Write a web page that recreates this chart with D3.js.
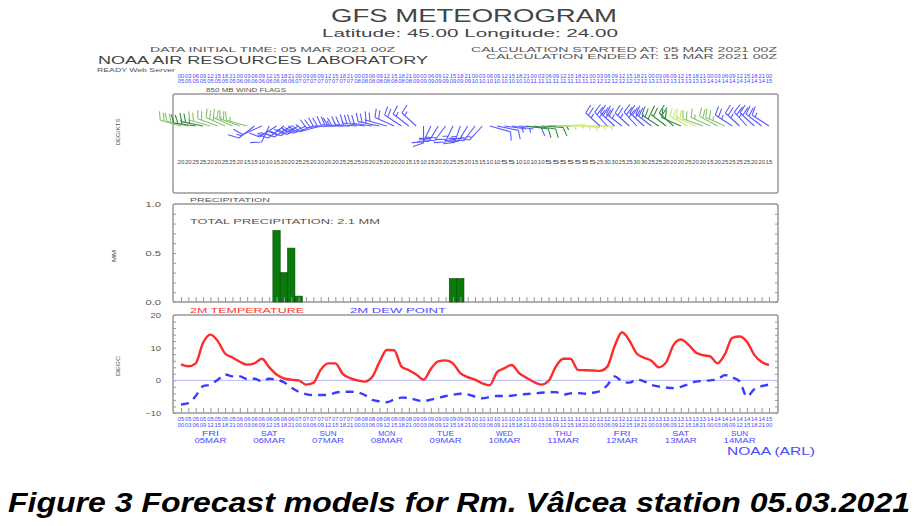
<!DOCTYPE html>
<html>
<head>
<meta charset="utf-8">
<title>GFS meteogram</title>
<script src="https://cdn.jsdelivr.net/npm/d3@7/dist/d3.min.js"></script>
<style>
body { margin: 0; background: #fff; }
svg text { font-family: "Liberation Sans", Arial, sans-serif; }
</style>
</head>
<body>
<div id="chart"></div>
<script>
// forecast steps, every 3 h from 05 MAR 2021 00Z to 15 MAR 2021 00Z
var hours = d3.range(0, 241, 3);

// 2 m temperature and dew point (deg C), one value per step
var temp = [4.9, 4.3, 5.2, 11.5, 14.0, 12.0, 8.2, 7.0, 5.7, 4.8,
            5.2, 6.6, 4.0, 1.8, 0.6, 0.2, 0.0, -1.3, -0.8, 3.2,
            5.2, 5.2, 2.0, 0.7, 0.0, -0.4, 1.0, 5.6, 9.3, 9.2,
            4.2, 3.1, 1.8, 0.2, 3.5, 5.8, 6.1, 5.2, 2.2, 1.0,
            0.2, -0.9, -1.5, 2.5, 3.7, 4.7, 2.2, 0.8, -0.5, -1.3,
            -0.2, 4.2, 6.6, 6.6, 3.2, 3.1, 3.0, 2.9, 4.2, 10.5,
            14.7, 12.2, 8.2, 6.9, 6.0, 4.0, 5.5, 10.8, 12.5, 11.0,
            8.6, 7.7, 7.3, 5.2, 8.0, 13.0, 13.4, 11.8, 7.8, 5.6, 4.7];
var dewPoint = [-7.4, -7.0, -4.8, -1.8, -1.3, 0.2, 1.8, 1.2, 1.2, 0.4,
                0.5, -0.3, 0.5, 0.2, -0.6, -2.2, -3.5, -4.2, -4.5, -4.5,
                -4.5, -3.8, -3.5, -3.5, -3.7, -4.5, -6.0, -6.4, -6.7, -5.9,
                -5.3, -5.4, -6.0, -6.4, -5.9, -5.4, -4.8, -4.4, -4.1, -4.3,
                -5.0, -5.5, -5.1, -4.8, -4.8, -4.7, -4.4, -4.2, -4.0, -3.8,
                -3.7, -3.6, -4.4, -4.0, -3.9, -4.1, -3.8, -3.3, -1.5, 1.2,
                -0.3, -0.7, 0.2, -0.3, -1.4, -1.9, -2.2, -2.4, -2.0, -1.2,
                -0.4, -0.2, 0.0, 0.3, 1.6, 0.9, -0.3, -5.0, -2.7, -1.8, -1.3];

// 3-hourly precipitation (mm), only the steps with rain
var precipHour = [39, 42, 45, 48, 111, 114];
var precipMM = [0.73, 0.30, 0.55, 0.06, 0.24, 0.24];

// 850 mb wind: direction (deg), speed (kt), flag colour class
var windDir = [290, 285, 280, 285, 290, 295, 300, 300, 295, 290,
               225, 240, 200, 230,
               225, 230, 235, 240, 245, 250,
               265, 270, 275, 270, 275, 280, 280, 285, 290,
               300, 310, 315, 320,
               180,
               200, 205, 210, 200, 195, 205, 210, 215,
               110, 105, 100, 100, 95, 100, 100, 95, 90,
               90, 85, 90, 95, 90, 90,
               320, 325, 320, 315, 320, 325, 320, 315, 310, 315, 320,
               300, 305, 300, 295, 300, 305, 300, 310,
               320, 325, 320, 315, 310];
var windSpd = [20, 20, 25, 25, 20, 20, 25, 25, 20, 15,
               15, 10, 10, 15,
               20, 20, 25, 25, 20, 20,
               20, 20, 25, 25, 25, 20, 20, 25, 20,
               20, 20, 15, 15,
               10,
               15, 20, 20, 25, 25, 20, 15, 15,
               10, 10, 5, 5, 10, 10, 10, 10, 5,
               5, 5, 5, 5, 5, 5,
               25, 30, 30, 25, 25, 30, 30, 25, 25, 20, 20,
               20, 25, 20, 20, 15, 20, 25, 25,
               25, 25, 20, 20, 15];
var windCls = ["g", "g", "d", "d", "g", "g", "g", "g", "g", "g",
               "b", "b", "b", "b", "b", "b", "b", "b", "b", "b",
               "b", "b", "b", "b", "b", "b", "b", "b", "b", "b",
               "b", "b", "b", "b", "b", "b", "b", "b", "b", "b",
               "b", "b", "b", "b", "b", "b", "b", "d", "d", "d",
               "d", "y", "y", "y", "y", "y", "y", "b", "b", "b",
               "b", "b", "b", "b", "b", "d", "d", "d", "d", "y",
               "y", "g", "g", "g", "g", "b", "b", "b", "b", "b", "b"];

// day labels at 12Z
var dayHour = [12, 36, 60, 84, 108, 132, 156, 180, 204, 228];
var dayNames = ["FRI", "SAT", "SUN", "MON", "TUE", "WED", "THU", "FRI", "SAT", "SUN"];
var dayDates = ["05MAR", "06MAR", "07MAR", "08MAR", "09MAR", "10MAR", "11MAR", "12MAR", "13MAR", "14MAR"];

var precipTicks = [0, 0.5, 1.0];
var tempTicks = [-10, 0, 10, 20];

var W = 914, H = 526;
var svg = d3.select("#chart").append("svg")
    .attr("width", W).attr("height", H);

var boxL = 173, boxR = 778;
var x = d3.scaleLinear().domain([0, 240]).range([181, 769]);
var yP = d3.scaleLinear().domain([0, 1]).range([302, 204]);
var yT = d3.scaleLinear().domain([-10, 20]).range([413, 315]);

var grey = "#555", blue = "#4a4aff";

function label(g, s, px, py, size, w, color, anchor) {
    var t = g.append("text")
        .attr("x", px).attr("y", py)
        .style("font-size", size + "px")
        .attr("fill", color || grey)
        .text(s);
    if (w) t.attr("textLength", w).attr("lengthAdjust", "spacingAndGlyphs");
    if (anchor) t.attr("text-anchor", anchor);
    return t;
}

function vlabel(g, s, cx, cy, size, w) {
    label(g, s, 0, 0, size, w, grey, "middle")
        .attr("transform", "translate(" + cx + "," + cy + ") rotate(-90)");
}

function pad(n) { return (n < 10 ? "0" : "") + n; }

// ---------- header ----------
label(svg, "GFS METEOROGRAM", 474, 22, 18, 286, "#444", "middle");
label(svg, "Latitude: 45.00 Longitude:  24.00", 470, 37, 11.5, 296, "#444", "middle");
label(svg, "DATA INITIAL TIME: 05 MAR 2021 00Z", 150, 52, 7, 245);
label(svg, "CALCULATION STARTED AT: 05 MAR 2021 00Z", 777, 51.5, 6.5, 306, grey, "end");
label(svg, "CALCULATION ENDED AT: 15 MAR 2021 00Z", 777, 59, 6.5, 291, grey, "end");
label(svg, "NOAA AIR RESOURCES LABORATORY", 98, 64, 11, 330, "#444");
label(svg, "READY Web Server", 97, 72, 6, 78);

// blue hour rows above the wind panel
var topRow = svg.append("g");
topRow.selectAll(".th").data(hours).enter().append("text")
    .attr("x", function(d) { return x(d); }).attr("y", 78)
    .attr("text-anchor", "middle").style("font-size", "4.5px").attr("fill", blue)
    .attr("textLength", 6.5).attr("lengthAdjust", "spacingAndGlyphs")
    .text(function(d) { return pad(d % 24); });
topRow.selectAll(".td").data(hours).enter().append("text")
    .attr("x", function(d) { return x(d); }).attr("y", 83)
    .attr("text-anchor", "middle").style("font-size", "4.5px").attr("fill", blue)
    .attr("textLength", 6.5).attr("lengthAdjust", "spacingAndGlyphs")
    .text(function(d) { return pad(5 + Math.floor(d / 24)); });

// ---------- wind panel ----------
label(svg, "850 MB  WIND FLAGS", 206, 91.5, 6, 80);
svg.append("rect").attr("x", boxL).attr("y", 94).attr("width", boxR - boxL).attr("height", 99)
    .attr("fill", "none").attr("stroke", "#999").attr("stroke-width", 1.5).attr("rx", 2);
vlabel(svg, "DEG/KTS", 120, 132, 6, 27);

var windColor = { g: "#86c46c", d: "#2f8a3a", b: "#5a5aff", y: "#cfe77a" };

function barbPath(dir, spd, cx, cy) {
    var th = dir * Math.PI / 180;
    var ux = Math.sin(th) * 1.3, uy = -Math.cos(th);
    var px = -uy * 1.3, py = ux / 1.3;
    var L = 17;
    var ex = cx + ux * L, ey = cy + uy * L;
    var p = "M" + cx + "," + cy + "L" + ex + "," + ey;
    var s = Math.round(spd / 5) * 5;
    var n10 = Math.floor(s / 10), n5 = (s % 10) >= 5 ? 1 : 0;
    var pos = 0;
    if (n10 === 0 && n5) pos = 1;
    for (var k = 0; k < n10 + n5; k++) {
        var f = k < n10 ? 9 : 4.5;
        var bx = ex - ux * 3.2 * pos, by = ey - uy * 3.2 * pos;
        p += "M" + bx + "," + by + "L" + (bx + f * (px * 0.9 + ux * 0.4)) + "," + (by + f * (py * 0.9 + uy * 0.4));
        pos++;
    }
    return p;
}

svg.append("g").selectAll("path").data(hours).enter().append("path")
    .attr("d", function(d, i) { return barbPath(windDir[i], windSpd[i], x(d), 126); })
    .attr("fill", "none").attr("stroke-width", 1.1)
    .attr("stroke", function(d, i) { return windColor[windCls[i]]; });

svg.append("g").selectAll("text").data(hours).enter().append("text")
    .attr("x", function(d) { return x(d); }).attr("y", 164)
    .attr("text-anchor", "middle").style("font-size", "5.5px").attr("fill", "#444")
    .attr("textLength", 6.8).attr("lengthAdjust", "spacingAndGlyphs")
    .text(function(d, i) { return windSpd[i]; });

// ---------- precipitation panel ----------
label(svg, "PRECIPITATION", 190, 201.5, 6, 80);
label(svg, "TOTAL PRECIPITATION:   2.1 MM", 190, 224, 6.5, 190);
svg.append("rect").attr("x", boxL).attr("y", 204).attr("width", boxR - boxL).attr("height", 98)
    .attr("fill", "none").attr("stroke", "#999").attr("stroke-width", 1.5).attr("rx", 2);
vlabel(svg, "MM", 116, 256, 6, 12);

svg.append("g").selectAll("rect").data(precipHour).enter().append("rect")
    .attr("x", function(d) { return x(d - 1.5); })
    .attr("width", function(d) { return x(d + 1.5) - x(d - 1.5); })
    .attr("y", function(d, i) { return yP(precipMM[i]); })
    .attr("height", function(d, i) { return yP(0) - yP(precipMM[i]); })
    .attr("fill", "#0a7a0a").attr("stroke", "#044d04").attr("stroke-width", 0.6);

function tidy(g) {
    g.select(".domain").remove();
    g.selectAll("line").attr("stroke", "#999");
}
function tickText(g) {
    g.select(".domain").remove();
    g.selectAll("line").remove();
    g.selectAll("text").style("font-size", "7.5px").attr("fill", grey)
        .attr("textLength", function(d) { return this.textContent.length * 5.2; })
        .attr("lengthAdjust", "spacingAndGlyphs");
}

svg.append("g").attr("transform", "translate(161,0)")
    .call(d3.axisLeft(yP).tickValues(precipTicks).tickFormat(d3.format(".1f")).tickSize(0).tickPadding(0))
    .call(tickText);
svg.append("g").attr("transform", "translate(" + boxL + ",0)")
    .call(d3.axisRight(yP).tickValues(d3.range(0, 1.01, 0.1)).tickSize(3).tickFormat(""))
    .call(tidy);
svg.append("g").attr("transform", "translate(" + boxR + ",0)")
    .call(d3.axisLeft(yP).tickValues(d3.range(0, 1.01, 0.1)).tickSize(3).tickFormat(""))
    .call(tidy);
svg.append("g").attr("transform", "translate(0,302)")
    .call(d3.axisTop(x).tickValues(hours).tickSize(5).tickFormat(""))
    .call(tidy);

// ---------- temperature panel ----------
label(svg, "2M TEMPERATURE", 190, 312.5, 6.5, 114, "#ff3030");
label(svg, "2M  DEW POINT", 350, 312.5, 6.5, 96, blue);
svg.append("rect").attr("x", boxL).attr("y", 315).attr("width", boxR - boxL).attr("height", 98)
    .attr("fill", "none").attr("stroke", "#999").attr("stroke-width", 1.5).attr("rx", 2);
vlabel(svg, "DEGC", 120, 366, 6, 20);

svg.append("g").attr("transform", "translate(161,0)")
    .call(d3.axisLeft(yT).tickValues(tempTicks).tickFormat(d3.format("d")).tickSize(0).tickPadding(0))
    .call(tickText);
svg.append("g").attr("transform", "translate(" + boxL + ",0)")
    .call(d3.axisRight(yT).tickValues(d3.range(-10, 21, 2)).tickSize(3).tickFormat(""))
    .call(tidy);
svg.append("g").attr("transform", "translate(" + boxR + ",0)")
    .call(d3.axisLeft(yT).tickValues(d3.range(-10, 21, 2)).tickSize(3).tickFormat(""))
    .call(tidy);
svg.append("g").attr("transform", "translate(0,413)")
    .call(d3.axisTop(x).tickValues(hours).tickSize(5).tickFormat(""))
    .call(tidy);

svg.append("line").attr("x1", boxL).attr("x2", boxR)
    .attr("y1", yT(0)).attr("y2", yT(0))
    .attr("stroke", "#b8b8ff").attr("stroke-width", 1);

var line = d3.line().curve(d3.curveMonotoneX)
    .x(function(d, i) { return x(hours[i]); }).y(function(d) { return yT(d); });
svg.append("path").datum(dewPoint).attr("d", line)
    .attr("fill", "none").attr("stroke", "#3b3bff").attr("stroke-width", 2.4)
    .attr("stroke-dasharray", "8,6");
svg.append("path").datum(temp).attr("d", line)
    .attr("fill", "none").attr("stroke", "#ff2a2a").attr("stroke-width", 2.4)
    .attr("stroke-linejoin", "round");

// blue hour rows under the time axis
var botRow = svg.append("g");
botRow.selectAll(".bh").data(hours).enter().append("text")
    .attr("x", function(d) { return x(d); }).attr("y", 421)
    .attr("text-anchor", "middle").style("font-size", "5px").attr("fill", blue)
    .attr("textLength", 6.5).attr("lengthAdjust", "spacingAndGlyphs")
    .text(function(d) { return pad(5 + Math.floor(d / 24)); });
botRow.selectAll(".bd").data(hours).enter().append("text")
    .attr("x", function(d) { return x(d); }).attr("y", 427)
    .attr("text-anchor", "middle").style("font-size", "5px").attr("fill", blue)
    .attr("textLength", 6.5).attr("lengthAdjust", "spacingAndGlyphs")
    .text(function(d) { return pad(d % 24); });

var days = svg.append("g");
days.selectAll(".dn").data(dayHour).enter().append("text")
    .attr("x", function(d) { return x(d); }).attr("y", 436)
    .attr("text-anchor", "middle").style("font-size", "7px").attr("fill", blue)
    .attr("textLength", 17).attr("lengthAdjust", "spacingAndGlyphs")
    .text(function(d, i) { return dayNames[i]; });
days.selectAll(".dd").data(dayHour).enter().append("text")
    .attr("x", function(d) { return x(d); }).attr("y", 443)
    .attr("text-anchor", "middle").style("font-size", "7px").attr("fill", blue)
    .attr("textLength", 32).attr("lengthAdjust", "spacingAndGlyphs")
    .text(function(d, i) { return dayDates[i]; });

label(svg, "NOAA (ARL)", 727, 455, 10, 88, blue);

// ---------- caption ----------
label(svg, "Figure 3 Forecast models for Rm. Vâlcea station 05.03.2021", 8, 512, 28, 902, "#000")
    .style("font-weight", "bold").style("font-style", "italic");
</script>
</body>
</html>
